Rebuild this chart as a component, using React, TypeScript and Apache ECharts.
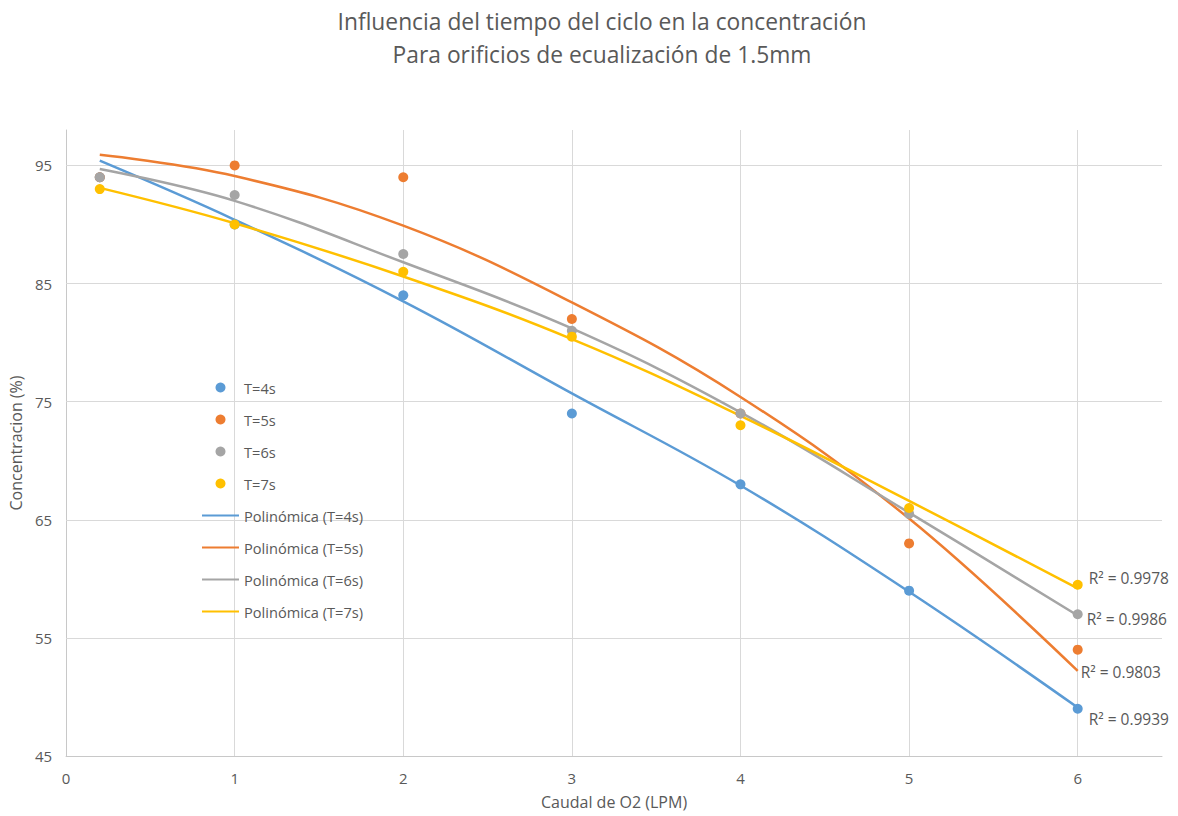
import React, { useEffect, useRef } from "react";
import * as echarts from "echarts";

const xValues = [0.2, 1, 2, 3, 4, 5, 6];
const t4 = [94, 90, 84, 74, 68, 59, 49];
const t5 = [94, 95, 94, 82, 74, 63, 54];
const t6 = [94, 92.5, 87.5, 81, 74, 65.5, 57];
const t7 = [93, 90, 86, 80.5, 73, 66, 59.5];

// trendline values at the same x positions
const trend4 = [95.4, 90.4, 83.5, 75.7, 67.9, 58.9, 49.1];
const trend5 = [95.9, 94.1, 89.9, 83.4, 75.4, 65.1, 52.2];
const trend6 = [94.7, 92.0, 86.8, 81.2, 74.1, 65.6, 56.9];
const trend7 = [93.1, 90.1, 85.6, 80.3, 73.8, 66.6, 59.2];

const r2Labels = ["R² = 0.9939", "R² = 0.9803", "R² = 0.9986", "R² = 0.9978"];
const scatterNames = ["T=4s", "T=5s", "T=6s", "T=7s"];
const trendNames = ["Polinómica (T=4s)", "Polinómica (T=5s)", "Polinómica (T=6s)", "Polinómica (T=7s)"];
const colors = ["#5B9BD5", "#ED7D31", "#A5A5A5", "#FFC000"];
const yTicks = [45, 55, 65, 75, 85, 95];
const xTicks = [0, 1, 2, 3, 4, 5, 6];

const FONT = "Open Sans";
const TXT = "#595959";

export default function App() {
  const ref = useRef<HTMLDivElement>(null);
  useEffect(() => {
    if (!ref.current) return;
    const chart = echarts.init(ref.current, undefined, { renderer: "svg" });
    const pts = [t4, t5, t6, t7];
    const trends = [trend4, trend5, trend6, trend7];
    const labelOffsets = [
      [3, 11],
      [-5, 1],
      [1, 4],
      [3, -10],
    ];
    const scatterSeries = pts.map((arr, i) => ({
      name: scatterNames[i],
      type: "scatter",
      data: arr.map((v, j) => [xValues[j], v]),
      symbolSize: 10,
      itemStyle: { color: colors[i], opacity: 1 },
      z: 4,
      ...(i === 0
        ? {
            markLine: {
              silent: true,
              z: 1,
              symbol: ["none", "none"],
              label: { show: false },
              emphasis: { disabled: true },
              lineStyle: { color: "#D9D9D9", width: 1, type: "solid" },
              data: [
                ...yTicks.slice(1).map((v) => ({ yAxis: v })),
                ...xTicks.slice(1).map((v) => ({ xAxis: v })),
              ],
            },
          }
        : {}),
    }));
    const trendSeries = trends.map((arr, i) => ({
      name: trendNames[i],
      type: "line",
      data: arr.map((v, j) => [xValues[j], v]),
      smooth: 0.4,
      symbol: "none",
      lineStyle: { color: colors[i], width: 2.5 },
      itemStyle: { color: colors[i] },
      z: 3,
      endLabel: {
        show: true,
        formatter: r2Labels[i],
        color: TXT,
        fontFamily: FONT,
        fontSize: 15.5,
        offset: labelOffsets[i],
      },
    }));
    chart.setOption({
      animation: false,
      backgroundColor: "#ffffff",
      textStyle: { fontFamily: FONT },
      title: {
        text: "Influencia del tiempo del ciclo en la concentración\nPara orificios de ecualización de 1.5mm",
        left: 597,
        top: 0,
        textAlign: "center",
        textStyle: {
          fontFamily: FONT,
          fontSize: 22.8,
          fontWeight: "normal",
          color: TXT,
          lineHeight: 33,
        },
      },
      legend: {
        orient: "vertical",
        left: 196,
        top: 375,
        itemWidth: 37,
        itemHeight: 10,
        itemGap: 17,
        textStyle: { fontFamily: FONT, fontSize: 14.6, color: TXT },
        data: [
          ...scatterNames,
          ...trendNames.map((n) => ({ name: n, itemStyle: { opacity: 0 } })),
        ],
      },
      grid: { left: 66, right: 16, top: 130, bottom: 60, containLabel: false },
      xAxis: {
        type: "value",
        min: 0,
        max: 6.5,
        interval: 1,
        name: "Caudal de O2 (LPM)",
        nameLocation: "middle",
        nameGap: 38,
        nameTextStyle: { fontFamily: FONT, fontSize: 16, color: TXT },
        axisLine: { show: true, lineStyle: { color: "#C8C8C8", width: 1 } },
        axisTick: { show: false },
        splitLine: { show: false },
        axisLabel: {
          fontFamily: FONT,
          fontSize: 15,
          color: TXT,
          margin: 14,
          showMaxLabel: false,
        },
      },
      yAxis: {
        type: "value",
        min: 45,
        max: 98,
        interval: 10,
        name: "Concentracion (%)",
        nameLocation: "middle",
        nameGap: 40,
        nameTextStyle: { fontFamily: FONT, fontSize: 16, color: TXT },
        axisLine: { show: true, lineStyle: { color: "#C8C8C8", width: 1 } },
        axisTick: { show: false },
        splitLine: { show: false },
        axisLabel: {
          fontFamily: FONT,
          fontSize: 15,
          color: TXT,
          margin: 14,
          showMaxLabel: false,
        },
      },
      series: [...scatterSeries, ...trendSeries],
    });
    return () => chart.dispose();
  }, []);
  return (
    <div
      ref={ref}
      style={{ position: "fixed", left: 0, top: 0, width: 1178, height: 816 }}
    />
  );
}
